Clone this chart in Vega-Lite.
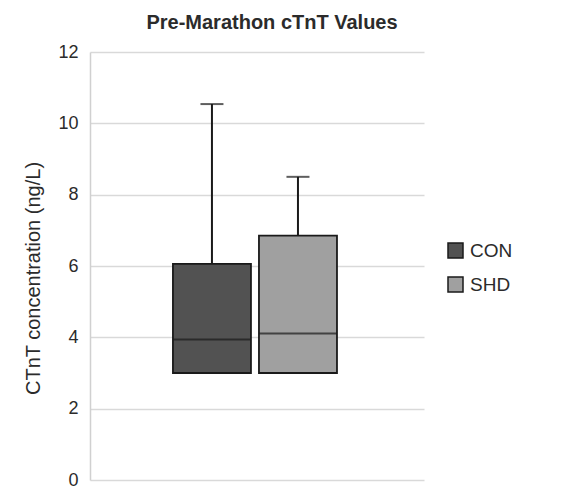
{
  "$schema": "https://vega.github.io/schema/vega-lite/v6.json",
  "autosize": "none",
  "padding": {"left": 90, "top": 52, "right": 152, "bottom": 18},
  "width": 334,
  "height": 428,
  "background": "white",
  "config": {
    "view": {"stroke": null},
    "font": "Liberation Sans"
  },
  "title": {
    "text": "Pre-Marathon cTnT Values",
    "font": "Liberation Sans",
    "fontSize": 20,
    "fontWeight": "bold",
    "color": "#2b2b2b",
    "frame": "group",
    "anchor": "middle",
    "dx": 15,
    "offset": 10
  },
  "data": {
    "values": [
      {"group": "CON", "min": 3.0, "q1": 3.0, "median": 3.94, "q3": 6.06, "max": 10.54},
      {"group": "SHD", "min": 3.0, "q1": 3.0, "median": 4.11, "q3": 6.85, "max": 8.5}
    ]
  },
  "encoding": {
    "x": {
      "field": "group",
      "type": "nominal",
      "axis": null,
      "scale": {"domain": ["CON", "SHD"], "paddingInner": 0.093, "paddingOuter": 0.988, "align": 0.488}
    }
  },
  "layer": [
    {
      "mark": {"type": "rule", "color": "#1a1a1a", "strokeWidth": 2},
      "encoding": {
        "y": {
          "field": "min",
          "type": "quantitative",
          "scale": {"domain": [0, 12], "nice": false},
          "axis": {
            "values": [0, 2, 4, 6, 8, 10, 12],
            "title": "CTnT concentration (ng/L)",
            "titleFont": "Liberation Sans",
            "titleFontSize": 20,
            "titleFontWeight": "normal",
            "titleColor": "#2b2b2b",
            "titleAngle": 270,
            "titleX": -57,
            "titleY": 226,
            "titleAlign": "center",
            "titleBaseline": "middle",
            "labelFont": "Liberation Sans",
            "labelFontSize": 18,
            "labelColor": "#2b2b2b",
            "labelPadding": 12,
            "ticks": false,
            "domainColor": "#d0d0d0",
            "domainWidth": 1.5,
            "gridColor": "#d9d9d9",
            "gridWidth": 1.5
          }
        },
        "y2": {"field": "max"}
      }
    },
    {
      "mark": {"type": "tick", "color": "#1a1a1a", "size": 23, "thickness": 2},
      "encoding": {
        "y": {"field": "max", "type": "quantitative"}
      }
    },
    {
      "mark": {"type": "bar", "stroke": "#1a1a1a", "strokeWidth": 1.8},
      "encoding": {
        "y": {"field": "q1", "type": "quantitative"},
        "y2": {"field": "q3"},
        "color": {
          "field": "group",
          "type": "nominal",
          "scale": {"domain": ["CON", "SHD"], "range": ["#525252", "#a0a0a0"]},
          "legend": {
            "title": null,
            "orient": "none",
            "legendX": 356,
            "legendY": 189,
            "symbolType": "square",
            "symbolSize": 225,
            "symbolStrokeColor": "#1a1a1a",
            "symbolStrokeWidth": 1.5,
            "labelFont": "Liberation Sans",
            "labelFontSize": 19,
            "labelColor": "#2b2b2b",
            "labelOffset": 5,
            "rowPadding": 13
          }
        }
      }
    },
    {
      "mark": {"type": "tick", "color": "#1a1a1a", "size": 78, "thickness": 2},
      "encoding": {
        "y": {"field": "median", "type": "quantitative"}
      }
    }
  ]
}
